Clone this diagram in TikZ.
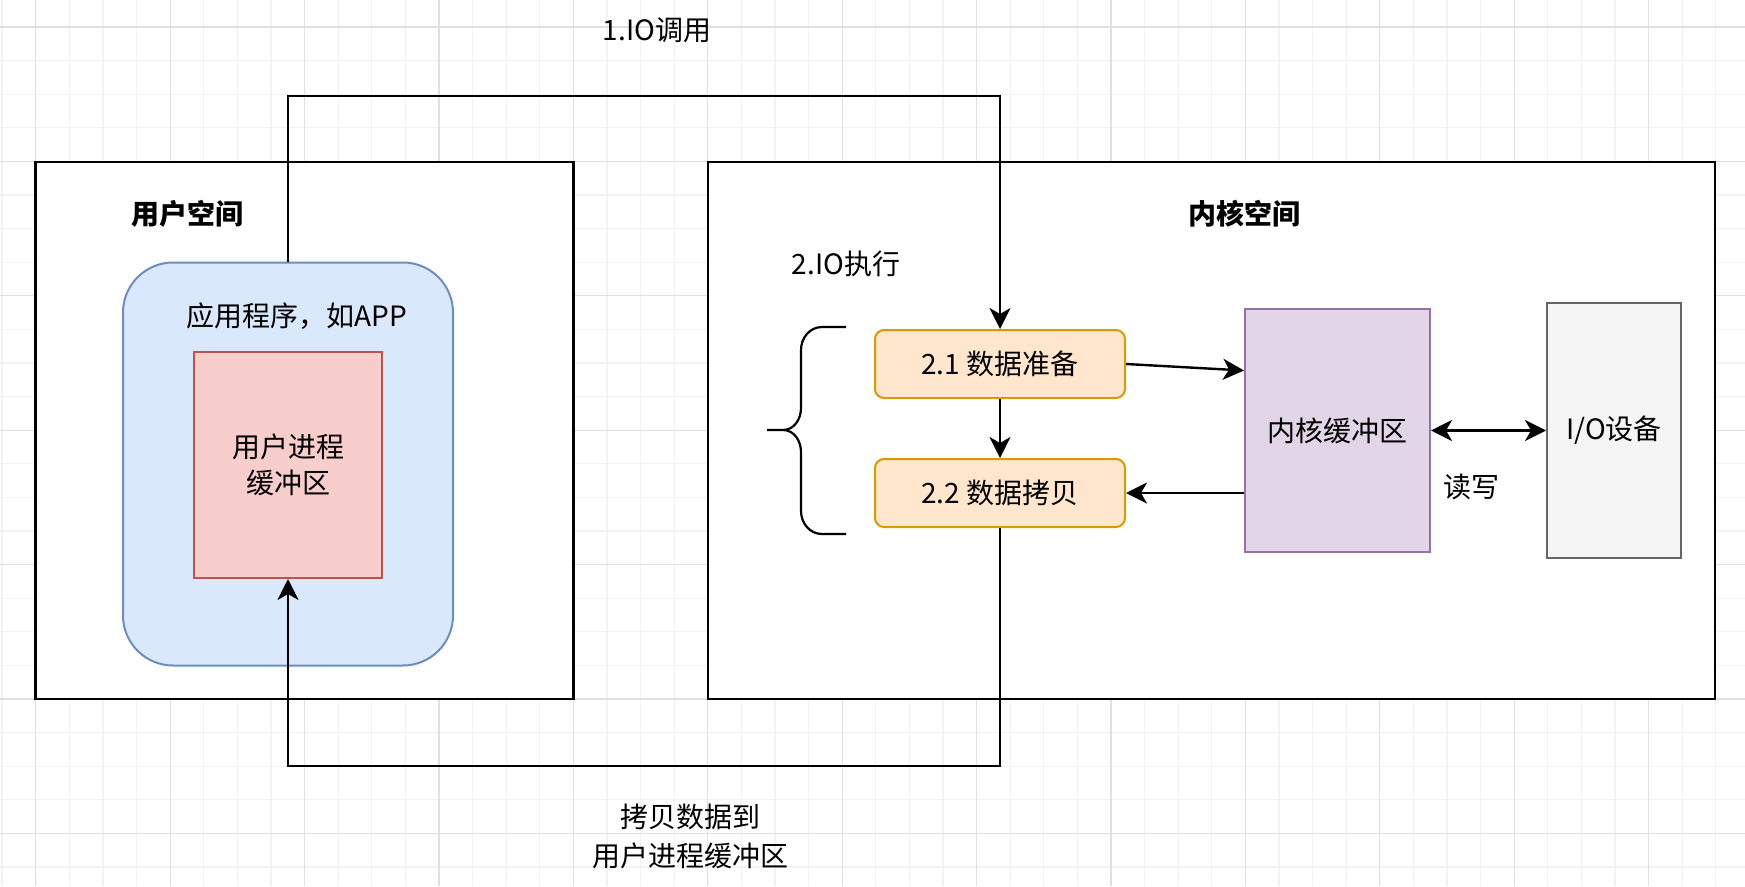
\documentclass[tikz,border=0pt]{standalone}
\usepackage{fontspec}
\setmainfont{Noto Sans CJK SC}
\usetikzlibrary{arrows.meta,positioning}
\definecolor{gridminor}{RGB}{242,242,242}
\definecolor{gridmajor}{RGB}{224,224,224}
\definecolor{appfill}{HTML}{DAE8FC}
\definecolor{appline}{HTML}{6C8EBF}
\definecolor{buffill}{HTML}{F8CECC}
\definecolor{bufline}{HTML}{B85450}
\definecolor{stepfill}{HTML}{FFE6CC}
\definecolor{stepline}{HTML}{D79B00}
\definecolor{kbuffill}{HTML}{E1D5E7}
\definecolor{kbufline}{HTML}{9673A6}
\definecolor{devfill}{HTML}{F5F5F5}
\definecolor{devline}{HTML}{666666}

\tikzset{
  spacebox/.style={draw, line width=2.6pt, fill=white},
  appbox/.style={draw=appline, fill=appfill, line width=2pt, rounded corners=50pt},
  bufbox/.style={draw=bufline, fill=buffill, line width=2pt, align=center},
  stepbox/.style={draw=stepline, fill=stepfill, line width=2pt, rounded corners=9pt,
    minimum width=250pt, minimum height=68pt},
  flow/.style={line width=2.4pt, -{Stealth[length=21pt,width=21pt,inset=6pt]}},
  bothflow/.style={line width=2.4pt, {Stealth[length=21pt,width=21pt,inset=6pt]}-{Stealth[length=21pt,width=21pt,inset=6pt]}}
}

\begin{document}
\begin{tikzpicture}[x=1pt, y=-1pt, every node/.style={font=\fontsize{28}{36}\selectfont, inner sep=0pt}]
  \useasboundingbox (0,0) rectangle (1745,886);
  \fill[white] (0,0) rectangle (1745,886);
  % background grid
  \begin{scope}
    \clip (0,0) rectangle (1745,886);
    \foreach \k in {-1,...,51}
      \draw[gridminor, line width=1.2pt] ({35.7+33.6*\k},0) -- ++(0,886);
    \foreach \k in {-5,...,20}
      \draw[gridminor, line width=1.2pt] (0,{699-33.6*\k}) -- ++(1745,0);
    \foreach \k in {0,4,...,48}
      \draw[gridmajor, line width=1.2pt] ({35.7+33.6*\k},0) -- ++(0,886);
    \foreach \k in {-4,0,...,20}
      \draw[gridmajor, line width=1.2pt] (0,{699-33.6*\k}) -- ++(1745,0);
  \end{scope}

  % two spaces
  \node[spacebox, minimum width=537.6pt, minimum height=537pt] (user) at (304.5,430.5) {};
  \node[spacebox, minimum width=1007pt, minimum height=537pt] (kernel) at (1211.4,430.5) {};
  \node[font=\fontsize{28}{36}\selectfont\bfseries] (usertitle) at (187,214) {用户空间};
  \node[font=\fontsize{28}{36}\selectfont\bfseries] (kerneltitle) at (1244,214) {内核空间};

  % user side
  \node[appbox, minimum width=330pt, minimum height=403pt] (app) at (288,464) {};
  \node (apptext) at (297,316) {应用程序，如APP};
  \node[bufbox, minimum width=188pt, minimum height=226pt] (ubuf) at (288,465) {用户进程\\缓冲区};

  % kernel side
  \node[stepbox] (b21) at (1000,364) {2.1 数据准备};
  \node[stepbox, below=59pt of b21] (b22) {2.2 数据拷贝};
  \node[draw=kbufline, fill=kbuffill, line width=2pt, minimum width=185pt, minimum height=243pt] (kbuf) at (1337.5,430.5) {内核缓冲区};
  \node[draw=devline, fill=devfill, line width=2pt, minimum width=134pt, minimum height=255pt] (iodev) at (1614,430.5) {I/O设备};
  \node (rwlabel) at (1471,487) {读写};
  \node (execlabel) at (846,264) {2.IO执行};

  % brace round the two steps
  \draw[line width=2.2pt] (846,327) -- (822,327) to[out=180,in=90] (801,350) -- (801,408)
    to[out=-90,in=0] (783,430) -- (767,430) -- (783,430)
    to[out=0,in=90] (801,452) -- (801,511) to[out=-90,in=180] (822,534) -- (846,534);

  % labels outside
  \node (calllabel) at (657,30) {1.IO调用};
  \node[align=center, font=\fontsize{28}{39}\selectfont] (copylabel) at (690,836) {拷贝数据到\\用户进程缓冲区};

  % connectors
  \coordinate (calltop) at (288,96);
  \coordinate (copybot) at (288,766);
  \draw[flow] (app.north) -- (calltop) -| (b21.north);
  \draw[flow] (b21) -- (b22);
  \draw[flow] (b21.east) -- ([yshift=60pt]kbuf.west);
  \draw[flow] (kbuf.west |- b22.east) -- (b22.east);
  \draw[bothflow] (kbuf.east) -- (iodev.west);
  \draw[flow] (b22.south) |- (copybot) -- (ubuf.south);
\end{tikzpicture}
\end{document}
